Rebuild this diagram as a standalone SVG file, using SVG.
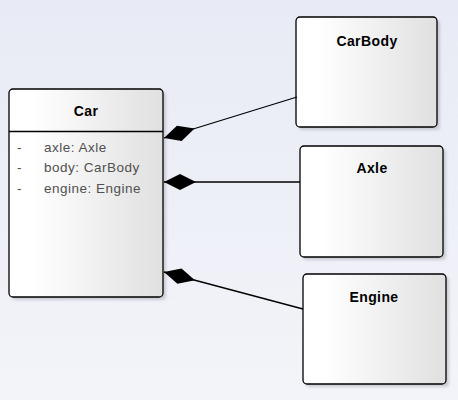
<svg xmlns="http://www.w3.org/2000/svg" width="458" height="400" viewBox="0 0 458 400">
<defs>
<linearGradient id="bg" x1="0" y1="0" x2="0" y2="1"><stop offset="0" stop-color="#E8EBF5"/><stop offset="1" stop-color="#F3F4F9"/></linearGradient>
<linearGradient id="box" x1="0" y1="0" x2="1" y2="0"><stop offset="0" stop-color="#FFFFFF"/><stop offset="0.15" stop-color="#FFFFFF"/><stop offset="1" stop-color="#E0E0E0"/></linearGradient>
<filter id="sh" x="-10%" y="-10%" width="130%" height="130%"><feGaussianBlur stdDeviation="1.5"/></filter>
<marker id="dia" viewBox="0 -9 34 18" markerWidth="34" markerHeight="18" refX="0" refY="0" orient="auto" markerUnits="userSpaceOnUse" overflow="visible"><polygon points="0,0 16,-8 32,0 16,8" fill="#000"/></marker>
<style>
.node rect.b{fill:url(#box);stroke:#000;stroke-width:1.3}
.node rect.s{fill:#B8BBC4;opacity:0.7;filter:url(#sh)}
.t{font-family:"Liberation Sans",Arial,sans-serif;font-weight:bold;font-size:14px;letter-spacing:0.4px;fill:#000;text-anchor:middle}
.a{font-family:"Liberation Sans",Arial,sans-serif;font-size:13.5px;letter-spacing:0.5px;fill:#505050}
.conn line{stroke:#000;stroke-width:1.3;marker-start:url(#dia)}
</style>
</defs>
<rect width="458" height="400" fill="url(#bg)"/>
<g id="Car" class="node">
<rect class="s" x="12" y="92" width="154" height="208" rx="4"/>
<rect class="b" x="9" y="89" width="154" height="208" rx="4"/>
<line x1="9" y1="131.5" x2="163" y2="131.5" stroke="#000" stroke-width="1.3"/>
<text class="t" x="86" y="116">Car</text>
<text class="a" x="17" y="152">-</text>
<text class="a" x="44" y="152">axle: Axle</text>
<text class="a" x="17" y="172">-</text>
<text class="a" x="44" y="172">body: CarBody</text>
<text class="a" x="17" y="193">-</text>
<text class="a" x="44" y="193">engine: Engine</text>
</g>
<g id="CarBody" class="node">
<rect class="s" x="299" y="20" width="141" height="110" rx="4"/>
<rect class="b" x="296" y="17" width="141" height="110" rx="4"/>
<text class="t" x="367" y="46">CarBody</text>
</g>
<g id="Axle" class="node">
<rect class="s" x="303" y="149" width="143" height="111" rx="4"/>
<rect class="b" x="300" y="146" width="143" height="111" rx="4"/>
<text class="t" x="372" y="173">Axle</text>
</g>
<g id="Engine" class="node">
<rect class="s" x="306" y="277" width="143" height="110" rx="4"/>
<rect class="b" x="303" y="274" width="143" height="110" rx="4"/>
<text class="t" x="374" y="302">Engine</text>
</g>
<g id="connectors" class="conn">
<line x1="164" y1="138" x2="297" y2="97"/>
<line x1="164" y1="182" x2="300" y2="182"/>
<line x1="164" y1="272" x2="303" y2="309"/>
</g>
</svg>
